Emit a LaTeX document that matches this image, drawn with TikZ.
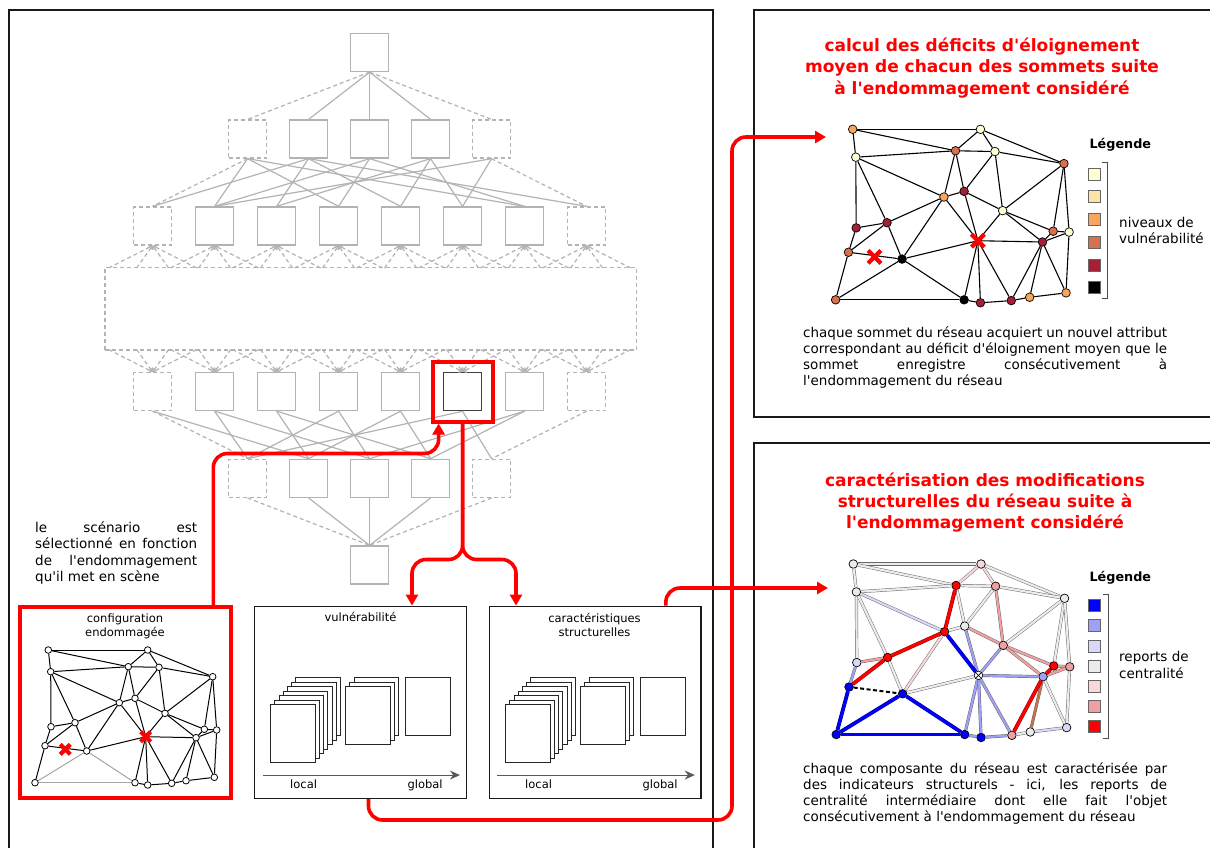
\documentclass[tikz,border=0pt]{standalone}
\usepackage{fontspec}
\setmainfont{DejaVu Sans}[Ligatures=TeXOff]
\usetikzlibrary{arrows.meta, positioning, calc}

\definecolor{vulA}{HTML}{FFFFD6}
\definecolor{vulB}{HTML}{FDE3A4}
\definecolor{vulC}{HTML}{F9A65C}
\definecolor{vulD}{HTML}{D6704E}
\definecolor{vulE}{HTML}{A61F36}
\definecolor{vulF}{HTML}{000000}
\definecolor{cenA}{HTML}{0000FF}
\definecolor{cenB}{HTML}{A0A0F5}
\definecolor{cenC}{HTML}{D8D8F8}
\definecolor{cenD}{HTML}{EBEBEB}
\definecolor{cenE}{HTML}{F8D8D8}
\definecolor{cenF}{HTML}{F0A0A0}
\definecolor{cenG}{HTML}{FF0000}
\definecolor{cenH}{HTML}{C87050}
\definecolor{treegray}{HTML}{B3B3B3}

\tikzset{
  panel/.style={draw=black!90, line width=2.4pt},
  treebox/.style={draw=treegray, line width=1.3pt, minimum size=38pt, inner sep=0pt},
  ghostbox/.style={treebox, dash pattern=on 4pt off 3pt},
  darkbox/.style={treebox, draw=black!75, line width=1.6pt},
  treeln/.style={treegray, line width=1.2pt},
  ghostln/.style={treeln, dash pattern=on 4pt off 3pt},
  ghostarr/.style={ghostln, -{Straight Barb[length=2.5pt,width=5pt]}},
  pickbox/.style={draw=red, line width=4pt, minimum size=60pt, inner sep=0pt},
  redpath/.style={red, line width=3.6pt, rounded corners=14pt},
  redtip/.style={-{Triangle[length=11pt,width=12pt]}},
  subpanel/.style={draw=black!90, line width=1.5pt, fill=white, inner sep=0pt},
  cfgpanel/.style={draw=red, line width=4pt, fill=white, inner sep=0pt},
  card/.style={draw=black!85, line width=0.9pt, fill=white},
  scaleax/.style={draw=black!65, line width=1pt, -{Stealth[length=10pt,width=9pt]}},
  vtx/.style={circle, draw=black, line width=0.8pt, fill=white, inner sep=0pt, minimum size=6.6pt},
  bigvtx/.style={vtx, line width=0.7pt, minimum size=8.6pt},
  plainlink/.style={black, line width=1pt},
  lostlink/.style={black!35, line width=1pt},
  softlink/.style={draw=black!60, line width=0.45pt, double distance=2.2pt},
  bluelink/.style={draw=blue!55!black, line width=0.5pt, double=cenA, double distance=2.8pt},
  redlink/.style={draw=red!55!black, line width=0.5pt, double=cenG, double distance=2.8pt},
  cutlink/.style={black, line width=2pt, dash pattern=on 4pt off 2.5pt},
  keybox/.style={draw=black!60, line width=0.6pt, minimum size=12pt, inner sep=0pt},
  keybrace/.style={black!70, line width=0.8pt},
  redhead/.style={text=red, font=\bfseries\fontsize{17}{21.7}\selectfont, anchor=base, inner sep=0pt},
  bodytxt/.style={font=\fontsize{13.5}{16}\selectfont, anchor=base west, inner sep=0pt},
  smalltxt/.style={font=\fontsize{11.5}{14}\selectfont, anchor=base, inner sep=0pt},
  keyhead/.style={font=\bfseries\fontsize{12.8}{15}\selectfont, anchor=base west, inner sep=0pt},
  redcross/.pic={\draw[red, line width=4.2pt] (-5,-5) -- (5,5) (-5,5) -- (5,-5);}
}

\newcommand{\jline}[2]{\makebox[#1][s]{#2}}

% network vertices (relative to the top left vertex), 23 = lost vertex, 24 = cut link
\newcommand{\netpos}{1/0/0, 2/99.4/0, 3/2.4/21.7, 4/80/16.7, 5/110.7/17.3, 6/164.4/26.7,
  7/71/52.7, 8/86.7/48.3, 9/116.7/63.3, 10/2.7/76.7, 11/26.7/72.7, 12/156/79.3,
  13/168.4/80, 14/-3.3/95.7, 15/38.4/101, 16/147.7/87.7, 17/-13.3/132.7, 18/86.7/132.7,
  19/99.4/135, 20/123.4/133.3, 21/137.7/130.7, 22/166/127.3, 23/97.4/86.7, 24/17/99.3}
\newcommand{\netlinks}{1/2, 1/3, 1/4, 2/4, 2/5, 2/6, 3/4, 3/7, 3/11, 3/10, 4/5, 4/7, 4/8,
  5/8, 5/9, 5/6, 6/9, 6/12, 6/13, 7/8, 7/11, 7/15, 7/23, 8/23, 8/9, 9/23, 9/12, 9/16,
  10/11, 10/14, 11/14, 11/15, 12/13, 12/16, 13/16, 13/22, 14/15, 14/17, 15/23, 23/16,
  23/18, 23/19, 23/20, 16/20, 16/21, 16/22, 18/19, 19/20, 20/21, 21/22}
\newcommand{\netlost}{15/17, 15/18, 17/18}

\begin{document}
\begin{tikzpicture}[x=1pt,y=-1pt]
\useasboundingbox (0,0) rectangle (1210,847);
\clip (0,0) rectangle (1210,847);
\fill[white] (0,0) rectangle (1210,847);

% Frames
\draw[panel] (9,10) rectangle (713,870);
\draw[panel] (754,10) rectangle (1230,417);
\draw[panel] (754,443) rectangle (1230,870);

% --- Scenario tree ---
\node[treebox] (t1) at (369.6,52.5) {};
\foreach \i in {1,2,3} \node[treebox] (t2-\i) at ({369.6+(\i-2)*61},139) {};
\foreach \i in {0,4} \node[ghostbox] (t2-\i) at ({369.6+(\i-2)*61},139) {};
\foreach \i in {1,...,6} \node[treebox] (t3-\i) at ({369.6+(\i-3.5)*62},226) {};
\foreach \i in {0,7} \node[ghostbox] (t3-\i) at ({369.6+(\i-3.5)*62},226) {};
\node[ghostbox, minimum width=531.6pt, minimum height=82.7pt] (scen) at (370.8,308.6) {};
\foreach \i in {1,2,3,4,6} \node[treebox] (t4-\i) at ({369.6+(\i-3.5)*62},391.5) {};
\node[darkbox] (t4-5) at ({369.6+1.5*62},391.5) {};
\foreach \i in {0,7} \node[ghostbox] (t4-\i) at ({369.6+(\i-3.5)*62},391.5) {};
\foreach \i in {1,2,3} \node[treebox] (t5-\i) at ({369.6+(\i-2)*61},478.3) {};
\foreach \i in {0,4} \node[ghostbox] (t5-\i) at ({369.6+(\i-2)*61},478.3) {};
\node[treebox] (t6) at (369.6,565) {};

% tree links
\foreach \i in {1,2,3} \draw[treeln] (t1.south) -- (t2-\i.north);
\foreach \i in {0,4} \draw[ghostln] (t1.south) -- (t2-\i.north);
\foreach \a/\b in {0/1, 0/3, 0/6, 1/0, 1/2, 1/4, 1/7, 2/1, 2/3, 2/6, 3/2, 3/4, 3/5, 4/1, 4/5}
  \draw[treeln] (t2-\a.south) -- (t3-\b.north);
\draw[ghostln] (t2-0.south) -- (t3-0.north);
\draw[ghostln] (t2-4.south) -- (t3-7.north);
\foreach \i in {0,...,7} {
  \foreach \o in {-44,-16,16,44} {
    \draw[ghostarr] ($(t3-\i.south)+(\o,22.3)$) -- (t3-\i.south);
    \draw[ghostarr] ($(t4-\i.north)+(\o,-22.3)$) -- (t4-\i.north);
  }
}
\foreach \a/\b in {0/1, 1/0, 1/2, 2/1, 2/3, 3/0, 3/2, 4/1, 4/3, 5/0, 5/4, 6/2, 6/3}
  \draw[treeln] (t4-\a.south) -- (t5-\b.north);
\draw[ghostln] (t4-0.south) -- (t5-0.north);
\draw[ghostln] (t4-7.south) -- (t5-4.north);
\foreach \i in {1,2,3} \draw[treeln] (t5-\i.south) -- (t6.north);
\foreach \i in {0,4} \draw[ghostln] (t5-\i.south) -- (t6.north);

\node[pickbox] (pick) at (t4-5) {};

% --- Left text ---
\node[bodytxt] (why1) at (35,532.5) {\jline{162pt}{le scénario est}};
\node[bodytxt] (why2) at (35,548.8) {\jline{162pt}{sélectionné en fonction}};
\node[bodytxt] (why3) at (35,565.1) {\jline{162pt}{de l'endommagement}};
\node[bodytxt] (why4) at (35,581.4) {qu'il met en scène};

% --- Damaged configuration ---
\node[cfgpanel, minimum width=211pt, minimum height=191pt] (cfgbox) at (125.8,702.5) {};
\node[smalltxt] (cfgt1) at (125,622) {configuration};
\node[smalltxt] (cfgt2) at (125,636) {endommagée};
\begin{scope}[shift={(48.3,650)}]
  \foreach \n/\px/\py in \netpos {\coordinate (q\n) at (\px,\py);}
\end{scope}
\foreach \n in {1,...,22} \node[vtx] (c\n) at (q\n) {};
\coordinate (c23) at (q23);
\foreach \a/\b in \netlinks \draw[plainlink] (c\a) -- (c\b);
\foreach \a/\b in \netlost \draw[lostlink] (c\a) -- (c\b);
\pic at (q24) {redcross};
\pic at (q23) {redcross};

% --- Result boxes ---
\node[subpanel, minimum width=211.6pt, minimum height=192pt] (vulnbox) at (360.5,702.3) {};
\node[subpanel, minimum width=211.6pt, minimum height=192pt] (strucbox) at (595.3,702.3) {};
\node[smalltxt] (vulnt) at (360.5,621.8) {vulnérabilité};
\node[smalltxt] (struct1) at (594.5,622) {caractéristiques};
\node[smalltxt] (struct2) at (594.5,636.3) {structurelles};
\foreach \dx in {0,235} {
  \foreach \bx/\n in {270.7/7, 345.7/3, 405.7/1} {
    \foreach \k in {\n,...,1}
      \draw[card] ({\bx+\dx+4.2*(\k-1)},{677.7+4.45*(\n-\k)}) rectangle ++(44.5,58);
  }
}
\draw[scaleax] ($(vulnbox.south west)+(8.6,-24)$) -- ($(vulnbox.south west)+(206,-24)$);
\draw[scaleax] ($(strucbox.south west)+(8.6,-24)$) -- ($(strucbox.south west)+(206,-24)$);
\node[smalltxt, anchor=base west] (vloc) at (290,788.5) {local};
\node[smalltxt, anchor=base west] (vglob) at (407.3,788.5) {global};
\node[smalltxt, anchor=base west] (sloc) at (525,788.5) {local};
\node[smalltxt, anchor=base west] (sglob) at (642.3,788.5) {global};

% --- Top right panel: vulnerability ---
\node[redhead] (headA1) at (982,51) {calcul des déficits d'éloignement};
\node[redhead] (headA2) at (982,72.7) {moyen de chacun des sommets suite};
\node[redhead] (headA3) at (982,94.4) {à l'endommagement considéré};
\begin{scope}[shift={(852.7,129.3)}, scale=1.285]
  \foreach \n/\px/\py in \netpos {\coordinate (q\n) at (\px,\py);}
\end{scope}
\foreach \n/\col in {1/vulC, 2/vulA, 3/vulA, 4/vulD, 5/vulA, 6/vulD, 7/vulC, 8/vulE, 9/vulA,
  10/vulE, 11/vulE, 12/vulD, 13/vulA, 14/vulD, 15/vulF, 16/vulE, 17/vulD, 18/vulF,
  19/vulE, 20/vulE, 21/vulC, 22/vulC}
  \node[bigvtx, fill=\col] (v\n) at (q\n) {};
\coordinate (v23) at (q23);
\foreach \a/\b in \netlinks \draw[plainlink, line width=1.1pt] (v\a) -- (v\b);
\foreach \a/\b in \netlost \draw[plainlink, line width=1.1pt] (v\a) -- (v\b);
\pic[scale=1.285] at (q24) {redcross};
\pic[scale=1.285] at (q23) {redcross};

\node[keyhead] (keyAt) at (1089.3,148.5) {Légende};
\foreach \k/\col in {0/vulA, 1/vulB, 2/vulC, 3/vulD, 4/vulE, 5/vulF}
  \node[keybox, fill=\col] (keyA\k) at (1094,{174+22.7*\k}) {};
\draw[keybrace] (1102,162) -- (1107,162) -- (1107,298) -- (1102,298);
\node[bodytxt] (keyAl1) at (1119,227.5) {niveaux de};
\node[bodytxt] (keyAl2) at (1119,243.5) {vulnérabilité};

\node[bodytxt] (noteA1) at (803,337.8) {\jline{364pt}{chaque sommet du réseau acquiert un nouvel attribut}};
\node[bodytxt] (noteA2) at (803,353.8) {\jline{364pt}{correspondant au déficit d'éloignement moyen que le}};
\node[bodytxt] (noteA3) at (803,369.8) {\jline{364pt}{sommet enregistre consécutivement à}};
\node[bodytxt] (noteA4) at (803,385.8) {l'endommagement du réseau};

% --- Bottom right panel: structure ---
\node[redhead] (headB1) at (985,486) {caractérisation des modifications};
\node[redhead] (headB2) at (985,507.2) {structurelles du réseau suite à};
\node[redhead] (headB3) at (985,528.4) {l'endommagement considéré};
\begin{scope}[shift={(853.3,564)}, scale=1.285]
  \foreach \n/\px/\py in \netpos {\coordinate (q\n) at (\px,\py);}
\end{scope}
\foreach \n/\col in {1/cenD, 2/cenE, 3/cenD, 4/cenG, 5/cenF, 6/cenD, 7/cenG, 8/cenD, 9/cenF,
  10/cenC, 11/cenG, 12/cenG, 13/cenF, 14/cenA, 15/cenA, 16/cenB, 17/cenA, 18/cenA,
  19/cenA, 20/cenF, 21/cenD, 22/cenC, 23/white}
  \node[bigvtx, fill=\col] (s\n) at (q\n) {};
\draw[line width=0.6pt] (s23.north east) -- (s23.south west) (s23.north west) -- (s23.south east);
\foreach \a/\b/\col in {1/2/cenD, 1/3/cenD, 1/4/cenD, 2/4/cenE, 2/5/cenE, 2/6/cenD, 3/4/cenD,
  3/7/cenC, 3/11/cenD, 3/10/cenD, 4/5/cenD, 4/8/cenD, 5/8/cenD, 5/9/cenF, 5/6/cenD,
  6/9/cenD, 6/12/cenD, 6/13/cenD, 7/8/cenD, 7/15/cenE, 8/23/cenB, 8/9/cenF, 9/23/cenB,
  9/12/cenF, 9/16/cenF, 10/11/cenF, 10/14/cenB, 11/15/cenD, 12/13/cenF, 13/16/cenF,
  13/22/cenD, 15/23/cenD, 23/16/cenB, 23/18/cenB, 23/19/cenB, 23/20/cenB, 16/21/cenH,
  16/22/cenD, 18/19/cenB, 19/20/cenB, 20/21/cenD, 21/22/cenC}
  \draw[softlink, double=\col] (s\a) -- (s\b);
\foreach \a/\b in {7/23, 14/17, 15/17, 15/18, 17/18} \draw[bluelink] (s\a) -- (s\b);
\foreach \a/\b in {4/7, 7/11, 11/14, 12/16, 16/20} \draw[redlink] (s\a) -- (s\b);
\draw[cutlink] (s14) -- (s15);

\node[keyhead] (keyBt) at (1089.3,581) {Légende};
\foreach \k/\col in {0/cenA, 1/cenB, 2/cenC, 3/cenD, 4/cenE, 5/cenF, 6/cenG}
  \node[keybox, fill=\col] (keyB\k) at (1094,{605.7+20.05*\k}) {};
\draw[keybrace] (1103,594) -- (1108,594) -- (1108,738) -- (1103,738);
\node[bodytxt] (keyBl1) at (1119,661.8) {reports de};
\node[bodytxt] (keyBl2) at (1119,678.5) {centralité};

\node[bodytxt] (noteB1) at (803,773.5) {\jline{364pt}{chaque composante du réseau est caractérisée par}};
\node[bodytxt] (noteB2) at (803,789.5) {\jline{364pt}{des indicateurs structurels - ici, les reports de}};
\node[bodytxt] (noteB3) at (803,805.5) {\jline{364pt}{centralité intermédiaire dont elle fait l'objet}};
\node[bodytxt] (noteB4) at (803,821.5) {consécutivement à l'endommagement du réseau};

% --- Red flow ---
\coordinate (inA) at (826,137);
\coordinate (inB) at (828,588);
\coordinate (bendA) at (732,820);
\draw[redpath, redtip] ($(cfgbox.north east)+(-20,0)$) |- ($(pick.south west)+(8,30)$) -- ($(pick.south west)+(8,0)$);
\draw[redpath, redtip] (pick.south) -- ++(0,136) -| ($(vulnbox.north)+(51.5,0)$);
\draw[redpath, redtip] (pick.south) -- ++(0,136) -| ($(strucbox.north)+(-79.3,0)$);
\draw[redpath, redtip] ($(vulnbox.south)+(8,0)$) |- (bendA) |- (inA);
\draw[redpath, redtip] ($(strucbox.north east)+(-36,0)$) |- (inB);

\end{tikzpicture}
\end{document}
